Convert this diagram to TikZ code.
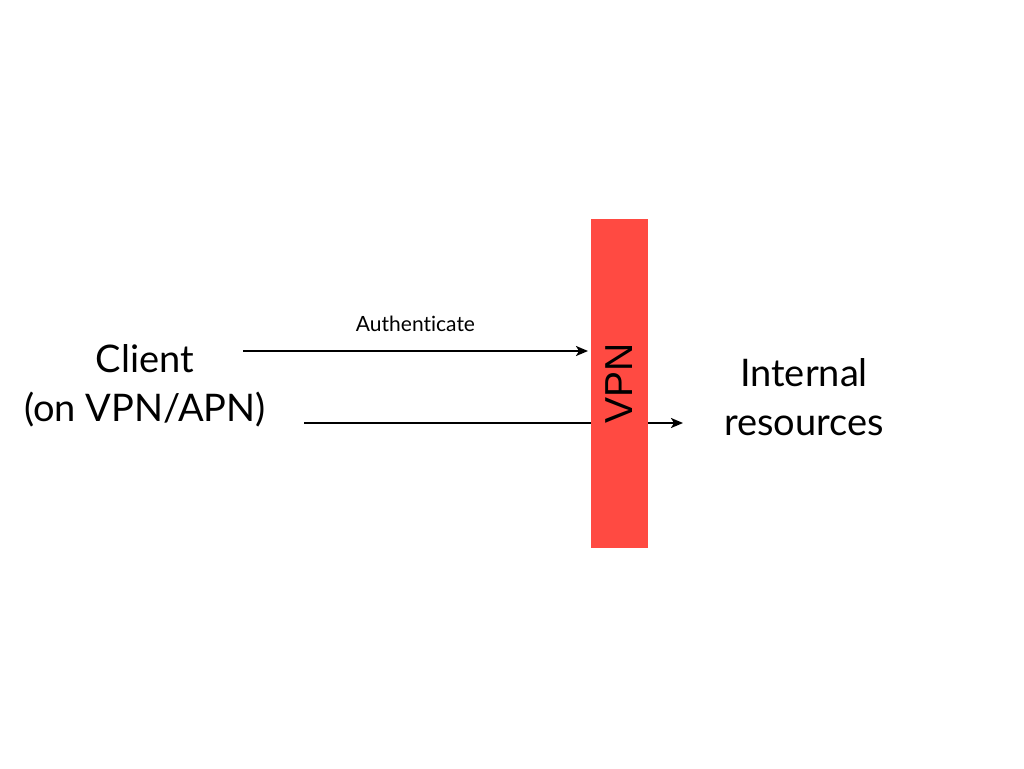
\documentclass[tikz,border=0pt]{standalone}
\usepackage{fontspec}
\setmainfont{Lato}[Ligatures=NoCommon]
\newfontfamily\vpnfont{Liberation Sans}
\usetikzlibrary{arrows.meta,positioning}
\definecolor{vpnred}{RGB}{255,74,66}
\tikzset{
  bigtext/.style={font=\fontsize{38}{49}\selectfont, align=center, inner sep=0pt},
  flow/.style={line width=2pt, -{Stealth[length=12pt,width=10pt,inset=3pt]}},
  wall/.style={fill=vpnred, draw=none, minimum width=57pt, minimum height=329pt, inner sep=0pt},
}
\begin{document}
\begin{tikzpicture}[x=1pt,y=-1pt]
\useasboundingbox (0,0) rectangle (1024,768);
\node[bigtext] (client) at (145,386) {Client\\(on VPN/APN)};
\node[bigtext] (internal) at (804,397) {Internal\\resources};
\coordinate (a1) at (243,351);
\coordinate (a2) at (588,351);
\coordinate (b1) at (304,423);
\coordinate (b2) at (683,423);
\draw[flow] (a1) -- node[above=18pt, font=\fontsize{21}{23}\selectfont, inner sep=0pt] (auth) {Authenticate} (a2);
\draw[flow] (b1) -- (b2);
\node[wall] (vpn) at (619.5,383.5) {};
\node[rotate=90, font=\vpnfont\fontsize{39}{40}\selectfont, inner sep=0pt] (vpnlabel) at (vpn.center) {VPN};
\end{tikzpicture}
\end{document}
